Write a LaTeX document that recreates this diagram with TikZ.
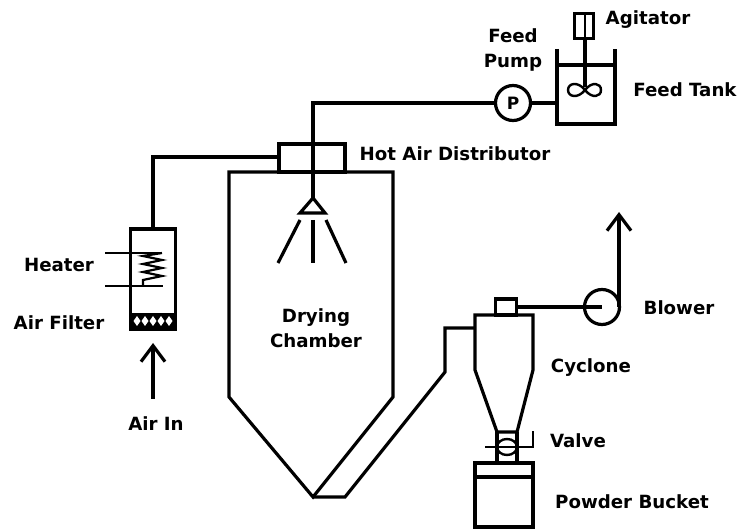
\documentclass[tikz,border=0pt]{standalone}
\usepackage{fontspec}
\setmainfont{DejaVu Sans}
\usetikzlibrary{arrows.meta}
\begin{document}
\begin{tikzpicture}[x=1pt, y=-1pt, line width=3.2pt, line join=miter,
    t/.style={font=\bfseries\fontsize{18.2}{25}\selectfont, inner sep=0pt, align=center},
    box/.style={rectangle, draw, inner sep=0pt, outer sep=0pt},
    round/.style={circle, draw, inner sep=0pt, outer sep=0pt},
    thin wire/.style={line width=2pt},
    up arrow/.style={-{Straight Barb[length=16pt, width=24pt, line width=3.2pt]}}]
            \useasboundingbox (0, 0) rectangle (742, 529);

            \node[box, minimum width=19pt, minimum height=25pt] (agitator) at (584, 26) {};
            \node[box, minimum width=66pt, minimum height=28pt] (distributor) at (312, 158) {};
            \node[box, minimum width=45pt, minimum height=100pt] (heater) at (153, 279) {};
            \node[box, minimum width=21pt, minimum height=16pt] (outlet) at (506, 307) {};
            \node[round, minimum size=35pt, font=\bfseries\fontsize{17}{18}\selectfont] (pump) at (513, 103) {P};
            \node[round, minimum size=35pt] (blower) at (602, 307) {};

            \coordinate (tanktl) at (557, 49);
            \coordinate (tanktr) at (615, 49);
            \coordinate (tankbl) at (557, 124);
            \coordinate (tankbr) at (615, 124);
            \coordinate (tankin) at (557, 103);
            \coordinate (shaft) at (585, 87);
            \coordinate (noz) at (313, 198);
            \coordinate (apex) at (313, 497);
            \coordinate (heaterin) at (153, 399);
            \coordinate (heaterout) at (153, 343);
            \coordinate (cyin) at (475, 328);
            \coordinate (exit) at (619, 212);

            \draw (tanktl) -- (tankbl) -- (tankbr) -- (tanktr);
            \draw (557, 65) -- (615, 65);
            \draw (agitator.south -| shaft) -- (shaft);
            \draw[line width=2pt] (585, 13) -- (585, 38);
            \draw[line width=2.4pt] (585, 90) .. controls (578, 81) and (568, 83) .. (568, 90)
                .. controls (568, 97) and (578, 99) .. (585, 90)
                .. controls (592, 81) and (601, 83) .. (601, 90)
                .. controls (601, 97) and (592, 99) .. (585, 90);
            \draw (pump) -- (tankin);
            \draw (pump) -- (313, 103) -- (noz);

            \draw (noz) -- (300, 213) -- (325, 213) -- cycle;
            \draw (300, 220) -- (278, 263);
            \draw (313, 220) -- (313, 263);
            \draw (326, 220) -- (346, 263);

            \draw (distributor.south west) -- (229, 172) -- (229, 397) -- (apex) -- (393, 397) -- (393, 172) -- (distributor.south east);
            \draw (apex) -- (345, 497) -- (445, 372) -- (445, 328) -- (cyin);
            \draw (heater.north) -- (153, 157) -- (distributor.west |- 157, 157);

            \draw[thin wire] (105, 253) -- (162, 253);
            \draw[line width=2.6pt] (105, 286) -- (163, 286);
            \draw[line width=2.2pt] (143, 286) -- (143, 280) -- (162, 276) -- (143, 272) -- (162, 268) -- (143, 264) -- (162, 260) -- (143, 256) -- (162, 253);

            \fill (130, 313) rectangle (175, 330);
            \foreach \x in {137, 145, 153, 161, 169} {
                \fill[white] (\x, 316) -- (\x + 3.5, 321) -- (\x, 326) -- (\x - 3.5, 321) -- cycle;
            }
            \draw[up arrow] (heaterin) -- (heaterout);

            \draw (outlet.south west) -- (475, 315) -- (475, 370) -- (497, 432) -- (517, 432) -- (533, 370) -- (533, 315) -- (outlet.south east);
            \draw (outlet.east) -- (blower.center);
            \draw[up arrow] (blower.center -| exit) -- (exit);

            \draw (497, 432) -- (497, 463);
            \draw (517, 432) -- (517, 463);
            \draw[line width=2.4pt] (507, 447) ellipse (10 and 8);
            \draw[line width=2.4pt] (485, 447) -- (533, 447) -- (533, 431);

            \draw (475, 463) rectangle (533, 527);
            \draw (475, 477) -- (533, 477);

            \node[t] (agitatorl) at (648, 20) {Agitator};
            \node[t] (feedl) at (513, 50) {Feed\\Pump};
            \node[t] (tankl) at (685, 90) {Feed Tank};
            \node[t] (distl) at (455, 154) {Hot Air Distributor};
            \node[t] (heaterl) at (59, 265) {Heater};
            \node[t] (filterl) at (59, 323) {Air Filter};
            \node[t] (airl) at (156, 424) {Air In};
            \node[t] (chamberl) at (316, 328) {Drying\\Chamber};
            \node[t] (blowerl) at (679, 308) {Blower};
            \node[t] (cyclonel) at (591, 368) {Cyclone};
            \node[t] (valvel) at (578, 441) {Valve};
            \node[t] (bucketl) at (632, 502) {Powder Bucket};
        \end{tikzpicture}
\end{document}
